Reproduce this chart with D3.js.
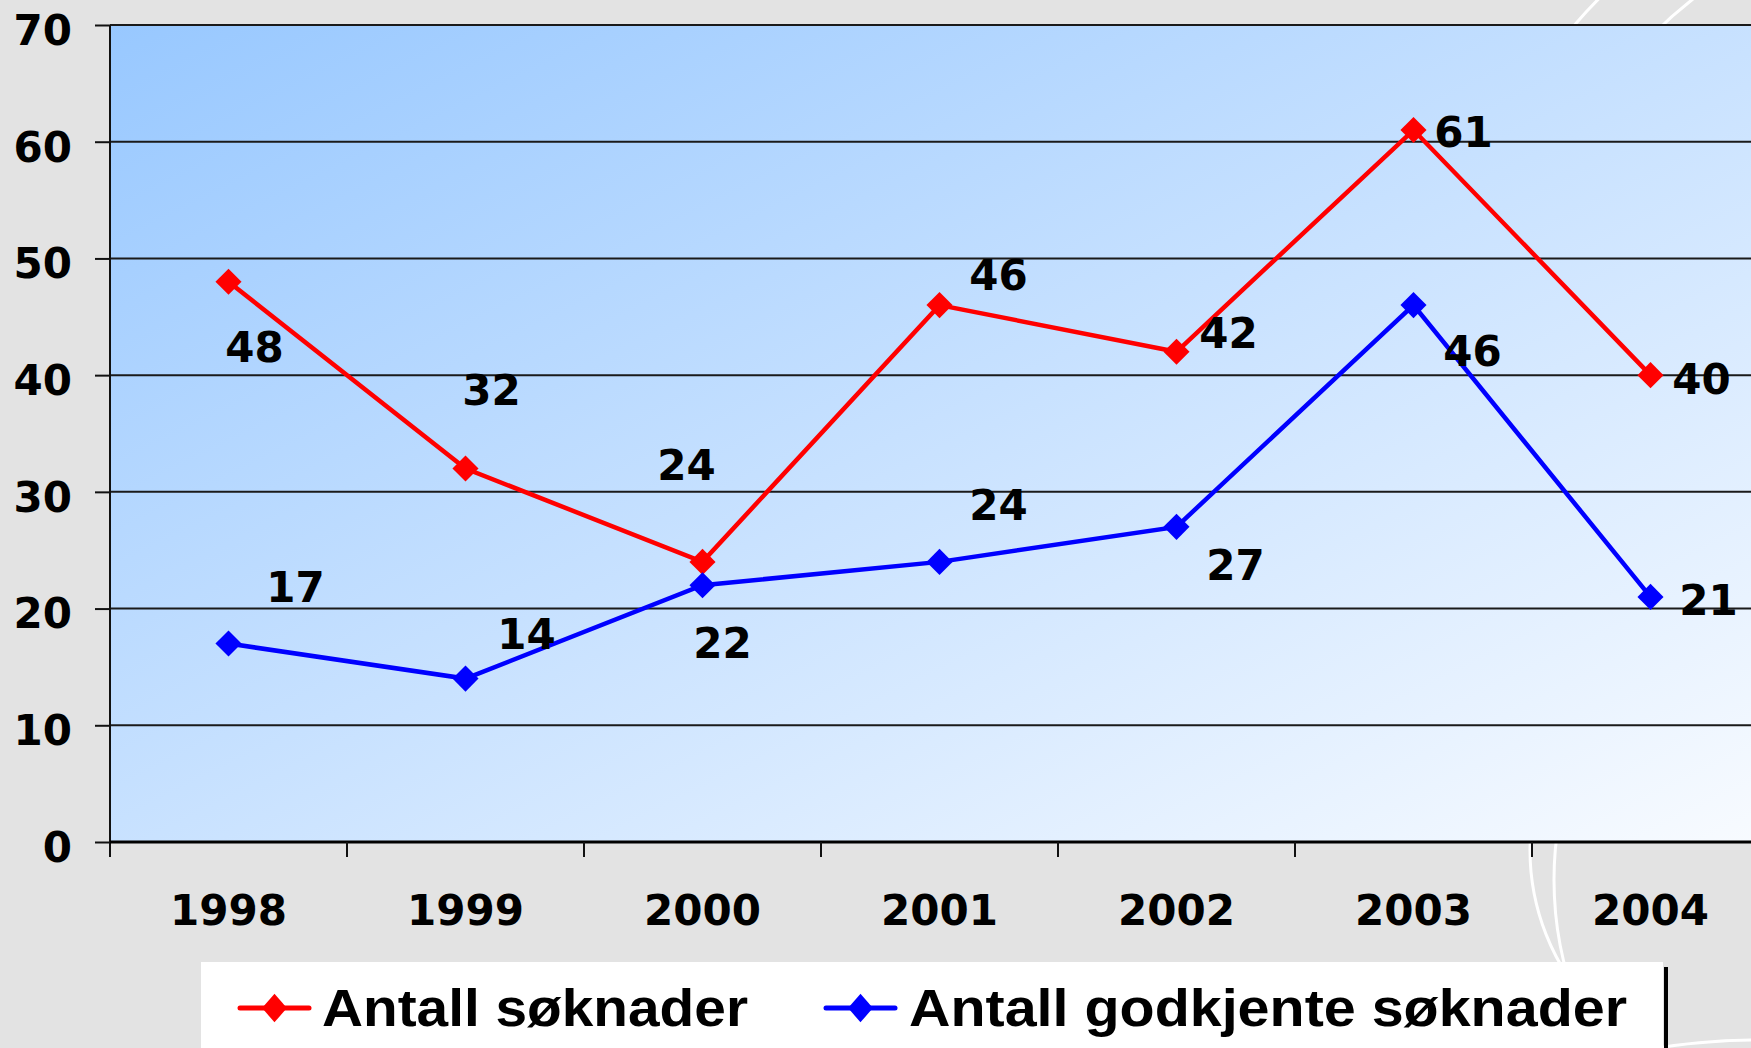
<!DOCTYPE html>
<html>
<head>
<meta charset="utf-8">
<script src="https://cdn.jsdelivr.net/npm/d3@7"></script>
<style>
  html, body { margin: 0; padding: 0; background: #e3e3e3; overflow: hidden; }
  svg { display: block; }
</style>
</head>
<body>
<div id="chart"></div>
<script>
// data
var years = ["1998", "1999", "2000", "2001", "2002", "2003", "2004"];
var soknader = [48, 32, 24, 46, 42, 61, 40];
var godkjente = [17, 14, 22, 24, 27, 46, 21];
var yTicks = [0, 10, 20, 30, 40, 50, 60, 70];
var seriesNames = ["Antall søknader", "Antall godkjente søknader"];

// where the value labels sit relative to their point (px)
var soknaderLabelShift = [[26, 65], [26, -79], [-16, -97], [59, -30], [52, -19], [50, 2], [51, 4]];
var godkjenteLabelShift = [[67, -57], [61, -45], [20, 58], [59, -57], [59, 38], [59, 46], [58, 3]];

var W = 1751, H = 1048;
var margin = {top: 25, left: 110, bottom: 842};
var plotRight = margin.left + 7 * 237;

var svg = d3.select("#chart").append("svg")
  .attr("width", W)
  .attr("height", H);

var defs = svg.append("defs");
var grad = defs.append("linearGradient")
  .attr("id", "plotBg")
  .attr("x1", 0).attr("y1", 0).attr("x2", 1).attr("y2", 1);
grad.append("stop").attr("offset", "0%").attr("stop-color", "#98c8ff");
grad.append("stop").attr("offset", "100%").attr("stop-color", "#f8fbff");

// background decoration arcs
svg.append("rect").attr("width", W).attr("height", H).attr("fill", "#e3e3e3");
var arcs = [[1900, 300, 426], [1950, 330, 419], [1760, 850, 230], [1900, 880, 346], [1760, 1700, 660]];
svg.selectAll("circle.deco")
  .data(arcs)
  .enter().append("circle")
  .attr("class", "deco")
  .attr("cx", function(d) { return d[0]; })
  .attr("cy", function(d) { return d[1]; })
  .attr("r", function(d) { return d[2]; })
  .attr("fill", "none")
  .attr("stroke", "#ffffff")
  .attr("stroke-width", 3);

var x = d3.scaleBand()
  .domain(years)
  .range([margin.left, plotRight])
  .padding(0);

var y = d3.scaleLinear()
  .domain([0, 70])
  .range([margin.bottom, margin.top]);

// plot area
svg.append("rect")
  .attr("x", margin.left)
  .attr("y", margin.top)
  .attr("width", plotRight - margin.left)
  .attr("height", margin.bottom - margin.top)
  .attr("fill", "url(#plotBg)");

// gridlines
svg.append("g")
  .selectAll("line")
  .data(yTicks.slice(1))
  .enter().append("line")
  .attr("x1", margin.left)
  .attr("x2", W)
  .attr("y1", function(d) { return y(d); })
  .attr("y2", function(d) { return y(d); })
  .attr("stroke", "#1a1a1a")
  .attr("stroke-width", 2);

// y axis
var yAxis = svg.append("g")
  .attr("transform", "translate(" + margin.left + ",0)")
  .call(d3.axisLeft(y).tickValues(yTicks).tickSize(15).tickPadding(23).tickSizeOuter(0));
yAxis.select(".domain").attr("stroke", "#111").attr("stroke-width", 2)
  .attr("d", "M0," + margin.top + "V" + (margin.bottom + 15));
yAxis.selectAll(".tick line").attr("stroke", "#111").attr("stroke-width", 2);
yAxis.selectAll("text")
  .attr("dy", "0.46em")
  .style("font-family", "'DejaVu Sans', Verdana, sans-serif")
  .style("font-weight", "bold")
  .style("font-size", "42px")
  .attr("fill", "#000");

// x axis: labels centred in the bands, ticks on the band edges
var xAxis = svg.append("g")
  .attr("transform", "translate(0," + margin.bottom + ")")
  .call(d3.axisBottom(x).tickSize(0).tickPadding(53).tickSizeOuter(0));
xAxis.select(".domain").attr("stroke", "#000").attr("stroke-width", 3)
  .attr("d", "M" + margin.left + ",0H" + W);
xAxis.selectAll("text")
  .style("font-family", "'DejaVu Sans', Verdana, sans-serif")
  .style("font-weight", "bold")
  .style("font-size", "42px")
  .attr("fill", "#000");
xAxis.selectAll("line.edge")
  .data(years.slice(1))
  .enter().append("line")
  .attr("class", "edge")
  .attr("x1", function(d) { return x(d); })
  .attr("x2", function(d) { return x(d); })
  .attr("y1", 0)
  .attr("y2", 15)
  .attr("stroke", "#111")
  .attr("stroke-width", 2);

var cx = function(d, i) { return x(years[i]) + x.bandwidth() / 2; };
var line = d3.line()
  .x(function(d, i) { return cx(d, i); })
  .y(function(d) { return y(d); });

// square turned 45 degrees
var diamond = d3.symbol().type(d3.symbolSquare).size(340);

function drawSeries(values, color, shifts, cls) {
  svg.append("path")
    .datum(values)
    .attr("d", line)
    .attr("fill", "none")
    .attr("stroke", color)
    .attr("stroke-width", 4.5)
    .attr("stroke-linejoin", "miter");

  svg.selectAll("path.m-" + cls)
    .data(values)
    .enter().append("path")
    .attr("class", "m-" + cls)
    .attr("d", diamond)
    .attr("transform", function(d, i) { return "translate(" + cx(d, i) + "," + y(d) + ") rotate(45)"; })
    .attr("fill", color);

  svg.selectAll("text.l-" + cls)
    .data(values)
    .enter().append("text")
    .attr("class", "l-" + cls)
    .attr("x", function(d, i) { return cx(d, i) + shifts[i][0]; })
    .attr("y", function(d, i) { return y(d) + shifts[i][1] + 15; })
    .attr("text-anchor", "middle")
    .style("font-family", "'DejaVu Sans', Verdana, sans-serif")
    .style("font-weight", "bold")
    .style("font-size", "42px")
    .attr("fill", "#000")
    .text(function(d) { return d; });
}

drawSeries(soknader, "#ff0000", soknaderLabelShift, "a");
drawSeries(godkjente, "#0000ff", godkjenteLabelShift, "b");

// legend
var legend = svg.append("g");
legend.append("line")
  .attr("x1", 1666).attr("x2", 1666)
  .attr("y1", 967).attr("y2", H)
  .attr("stroke", "#000").attr("stroke-width", 4);
legend.append("rect")
  .attr("x", 201).attr("y", 962)
  .attr("width", 1663 - 201).attr("height", H - 962 + 5)
  .attr("fill", "#ffffff");

var legendItems = [
  {name: seriesNames[0], color: "#ff0000", x0: 240, x1: 309, tx: 322, len: 426},
  {name: seriesNames[1], color: "#0000ff", x0: 826, x1: 895, tx: 909, len: 718}
];
legendItems.forEach(function(it) {
  legend.append("line")
    .attr("x1", it.x0).attr("x2", it.x1)
    .attr("y1", 1008).attr("y2", 1008)
    .attr("stroke", it.color).attr("stroke-width", 5)
    .attr("stroke-linecap", "round");
  legend.append("path")
    .attr("d", diamond)
    .attr("transform", "translate(" + ((it.x0 + it.x1) / 2) + ",1008) scale(0.95,1.1) rotate(45)")
    .attr("fill", it.color);
  legend.append("text")
    .attr("x", it.tx)
    .attr("y", 1026)
    .attr("textLength", it.len)
    .attr("lengthAdjust", "spacingAndGlyphs")
    .style("font-family", "'Liberation Sans', Arial, sans-serif")
    .style("font-weight", "bold")
    .style("font-size", "51px")
    .attr("fill", "#000")
    .text(it.name);
});
</script>
</body>
</html>
